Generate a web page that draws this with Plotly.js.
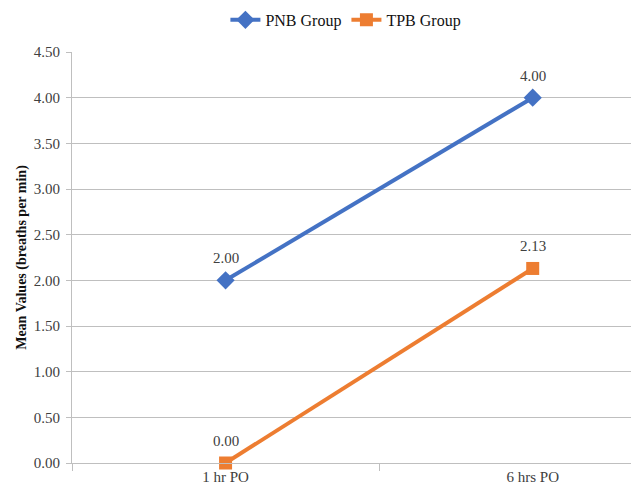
<!DOCTYPE html>
<html>
<head>
<meta charset="utf-8">
<script src="https://cdn.plot.ly/plotly-3.0.1.min.js"></script>
<style>html,body{margin:0;padding:0;background:#fff}#chart{width:631px;height:489px}</style>
</head>
<body>
<div id="chart"></div>
<script>
var categories = ["1 hr PO", "6 hrs PO"];
var pnbValues = [2.00, 4.00];
var tpbValues = [0.00, 2.13];
var seriesNames = ["PNB Group", "TPB Group"];
var yTickValues = [0, 0.5, 1, 1.5, 2, 2.5, 3, 3.5, 4, 4.5];

var FONT = "'Liberation Serif', 'Times New Roman', serif";
var blue = "#4472C4", orange = "#ED7D31";

var traces = [
  {x: categories, y: pnbValues, name: seriesNames[0], type: "scatter", mode: "lines+markers",
   cliponaxis: false,
   line: {color: blue, width: 4}, marker: {symbol: "diamond", size: 14, color: blue}},
  {x: categories, y: tpbValues, name: seriesNames[1], type: "scatter", mode: "lines+markers",
   cliponaxis: false,
   line: {color: orange, width: 4}, marker: {symbol: "square", size: 13, color: orange}}
];

var annotations = [];
[pnbValues, tpbValues].forEach(function(vals){
  vals.forEach(function(v, i){
    annotations.push({x: categories[i], y: v, xref: "x", yref: "y", text: v.toFixed(2),
      showarrow: false, yshift: 22, font: {family: FONT, size: 15, color: "#404040"}});
  });
});

var layout = {
  width: 631, height: 489,
  margin: {l: 72, r: 0, t: 52, b: 26, pad: 0},
  paper_bgcolor: "#fff", plot_bgcolor: "#fff",
  font: {family: FONT, size: 15, color: "#404040"},
  showlegend: true,
  legend: {orientation: "h", x: 0.49, xanchor: "center", y: 1.078, yanchor: "middle",
    font: {family: FONT, size: 16, color: "#111"}, itemwidth: 30, traceorder: "normal"},
  xaxis: {type: "category", range: [-0.5, 1.32], showgrid: false, zeroline: false,
    showline: true, linecolor: "#BFBFBF", linewidth: 1,
    ticks: "outside", tickson: "boundaries", ticklen: 7, tickcolor: "#BFBFBF",
    tickfont: {family: FONT, size: 15, color: "#404040"}},
  yaxis: {range: [0, 4.5], tickvals: yTickValues, tickformat: ".2f",
    showgrid: true, gridcolor: "#BFBFBF", gridwidth: 1, zeroline: false,
    showline: true, linecolor: "#BFBFBF", linewidth: 1,
    ticks: "outside", ticklen: 5, tickcolor: "#BFBFBF", ticklabelstandoff: 3,
    tickfont: {family: FONT, size: 15, color: "#404040"},
    title: {text: "<b>Mean Values (breaths per min)</b>", standoff: 3,
      font: {family: FONT, size: 14, color: "#111"}}},
  annotations: annotations
};

Plotly.newPlot("chart", traces, layout, {displayModeBar: false, staticPlot: true});
</script>
</body>
</html>
